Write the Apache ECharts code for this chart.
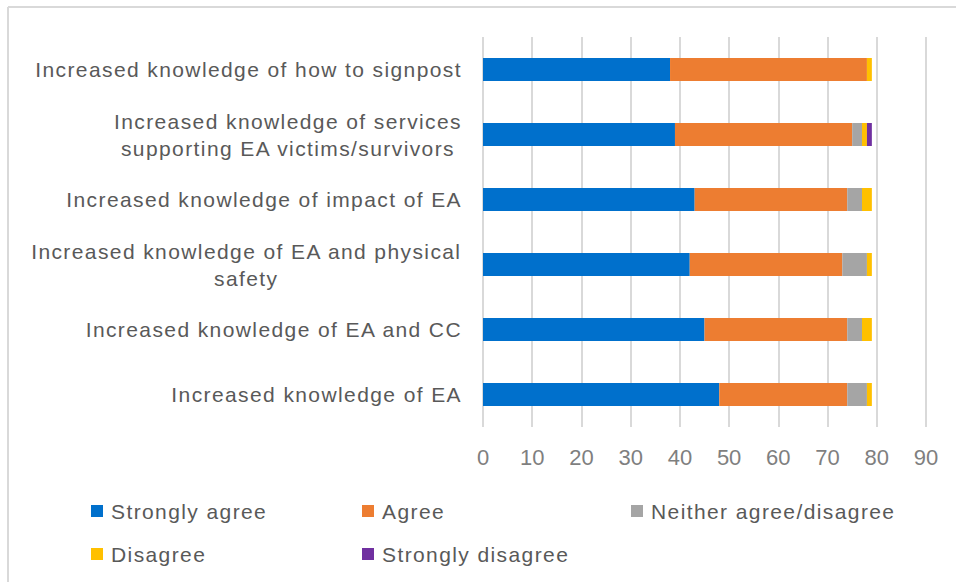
<!DOCTYPE html>
<html>
<head>
<meta charset="utf-8">
<script src="https://cdn.jsdelivr.net/npm/echarts@6/dist/echarts.min.js"></script>
<style>
html,body{margin:0;padding:0;background:#fff}
#c{width:956px;height:582px}
#c svg text{letter-spacing:1.4px}
#c svg text.nols{letter-spacing:0}
</style>
</head>
<body>
<div id="c"></div>
<script>
const categories = [
  'Increased knowledge of how to signpost',
  'Increased knowledge of services\nsupporting EA victims/survivors',
  'Increased knowledge of impact of EA',
  'Increased knowledge of EA and physical\nsafety',
  'Increased knowledge of EA and CC',
  'Increased knowledge of EA'
];
const stronglyAgree    = [38, 39, 43, 42, 45, 48];
const agree            = [40, 36, 31, 31, 29, 26];
const neither          = [0, 2, 3, 5, 3, 4];
const disagree         = [1, 1, 2, 1, 2, 1];
const stronglyDisagree = [0, 1, 0, 0, 0, 0];
const seriesNames = ['Strongly agree', 'Agree', 'Neither agree/disagree', 'Disagree', 'Strongly disagree'];
const xTicks = [0, 10, 20, 30, 40, 50, 60, 70, 80, 90];

const colors = ['#0070CC', '#ED7D31', '#A5A5A5', '#FFC000', '#7030A0'];
const values = [stronglyAgree, agree, neither, disagree, stronglyDisagree];
const FONT = '"Liberation Sans", Arial, sans-serif';
const LS = 1.4; // letter spacing applied via CSS to svg text

// rich styles for multi-line labels: centre lines within block, compensate for letter spacing
const rich = {};
categories.forEach(function (c, i) {
  const lines = c.split('\n');
  if (lines.length > 1) {
    const n = Math.max.apply(null, lines.map(function (l) { return l.length; }));
    rich['m' + i] = { align: 'center', color: '#595959', fontSize: 21, fontFamily: FONT, lineHeight: 27, padding: [0, n * LS / 2, 0, 0] };
  }
});

const legendPos = [[91, 500], [362, 500], [631, 500], [91, 543], [362, 543]];

const chart = echarts.init(document.getElementById('c'), null, { renderer: 'svg' });
const option = {
  animation: false,
  color: colors,
  grid: { left: 483, right: 30, top: 37, bottom: 155, containLabel: false },
  xAxis: {
    type: 'value',
    min: xTicks[0], max: xTicks[xTicks.length - 1], interval: 10,
    axisLine: { show: false },
    axisTick: { show: false },
    splitLine: { show: true, lineStyle: { color: '#d9d9d9', width: 2 } },
    axisLabel: { color: '#7f7f7f', fontSize: 22, fontFamily: FONT, margin: 19 }
  },
  yAxis: {
    type: 'category',
    inverse: true,
    data: categories,
    axisLine: { show: false },
    axisTick: { show: false },
    axisLabel: {
      color: '#595959', fontSize: 21, fontFamily: FONT, margin: 21,
      lineHeight: 27,
      formatter: function (v, idx) {
        const lines = v.split('\n');
        if (lines.length === 1) return v;
        return lines.map(function (l) { return '{m' + idx + '|' + l + '}'; }).join('\n');
      },
      rich: rich
    }
  },
  legend: seriesNames.map(function (name, i) {
    return {
      data: [name],
      left: legendPos[i][0], top: legendPos[i][1],
      padding: 0,
      icon: 'rect', itemWidth: 12, itemHeight: 12, itemGap: 0,
      textStyle: { color: '#595959', fontSize: 21, fontFamily: FONT, lineHeight: 22, padding: [0, 0, 0, 3] }
    };
  }),
  graphic: [
    { type: 'line', shape: { x1: 8, y1: 7, x2: 956, y2: 7 }, style: { stroke: '#d9d9d9', lineWidth: 2 }, silent: true },
    { type: 'line', shape: { x1: 8, y1: 7, x2: 8, y2: 582 }, style: { stroke: '#d9d9d9', lineWidth: 2 }, silent: true }
  ],
  series: seriesNames.map(function (name, i) {
    return {
      name: name, type: 'bar', stack: 'total', barWidth: 23,
      data: values[i],
      itemStyle: { color: colors[i] }
    };
  })
};

function fixTickSpacing() {
  document.querySelectorAll('#c svg text').forEach(function (t) {
    if (window.getComputedStyle(t).fontSize === '22px') {
      t.classList.add('nols');
      t.style.letterSpacing = '0px';
    }
  });
}
chart.on('finished', fixTickSpacing);
chart.setOption(option);
fixTickSpacing();
setTimeout(fixTickSpacing, 50);
setTimeout(fixTickSpacing, 300);
</script>
</body>
</html>
